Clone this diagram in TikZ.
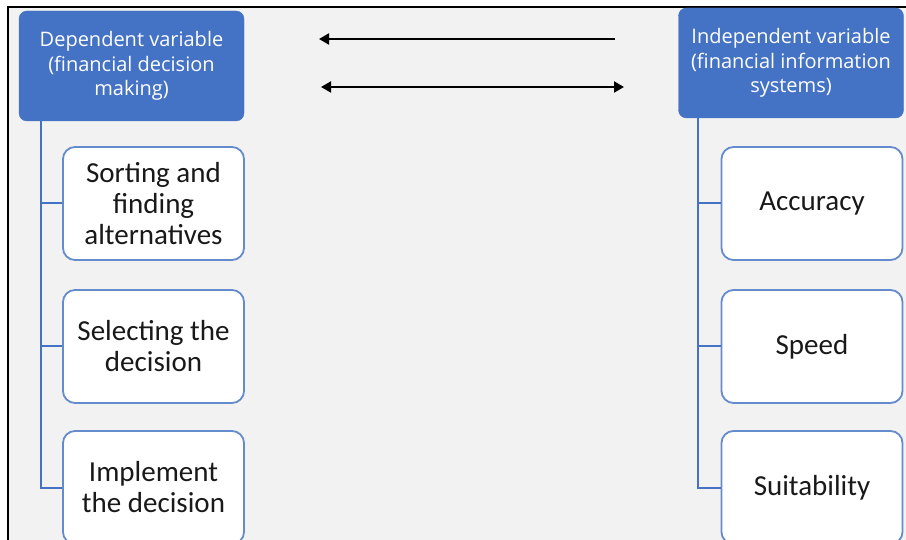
\documentclass[tikz,border=0pt]{standalone}
\usepackage{fontspec}
\usepackage{xcolor}
\usepackage{tikz}
\usetikzlibrary{arrows.meta}
\setmainfont{Carlito}
\newfontfamily\headfont{Open Sans}

\definecolor{boxblue}{RGB}{68,114,196}
\definecolor{edgeblue}{RGB}{100,140,205}
\definecolor{paper}{RGB}{242,242,242}

\tikzset{
    head/.style={draw=boxblue, fill=boxblue, rounded corners=8pt, text=white,
        align=center, minimum width=225pt, minimum height=110pt, inner sep=0pt,
        font=\headfont\fontsize{20}{24.5}\selectfont},
    item/.style={draw=edgeblue, fill=white, line width=1.8pt, rounded corners=12pt,
        align=center, minimum width=181pt, minimum height=113pt, inner sep=0pt,
        text=black!90, font=\fontsize{29}{31}\selectfont},
    branch/.style={draw=boxblue, line width=2pt},
    link/.style={black, line width=2pt}
}

\begin{document}
\begin{tikzpicture}[x=1pt, y=-1pt]
    \useasboundingbox (0,0) rectangle (906,540);
    \clip (0,0) rectangle (906,540);
    \fill[paper] (8,7) rectangle (906,540);
    \draw[black, line width=1.6pt] (906,7) -- (8,7) -- (8,540);

    \node[head] at (131.5,66) (dep) {Dependent variable\\(financial decision\\making)};
    \node[head] at (791,63) (ind) {Independent variable\\(financial information\\systems)};

    \node[item] at (153.5,203.5) (sort) {Sorting and\\finding\\alternatives};
    \node[item] at (153.5,346.5) (select) {Selecting the\\decision};
    \node[item] at (153.5,487.5) (impl) {Implement\\the decision};

    \node[item] at (812,203.5) (acc) {Accuracy};
    \node[item] at (812,346.5) (speed) {Speed};
    \node[item] at (812,487.5) (suit) {Suitability};

    \draw[branch] ([xshift=22pt]dep.south west) |- (sort.west);
    \draw[branch] ([xshift=22pt]dep.south west) |- (select.west);
    \draw[branch] ([xshift=22pt]dep.south west) |- (impl.west);
    \draw[branch] ([xshift=20pt]ind.south west) |- (acc.west);
    \draw[branch] ([xshift=20pt]ind.south west) |- (speed.west);
    \draw[branch] ([xshift=20pt]ind.south west) |- (suit.west);

    \coordinate (a1) at (615,39);
    \coordinate (b1) at (319,39);
    \coordinate (a2) at (321,87);
    \coordinate (b2) at (624,87);
    \draw[link, -{Triangle[length=10pt, width=11pt]}] (a1) -- (b1);
    \draw[link, {Triangle[length=10pt, width=11pt]}-{Triangle[length=10pt, width=11pt]}] (a2) -- (b2);
\end{tikzpicture}
\end{document}
